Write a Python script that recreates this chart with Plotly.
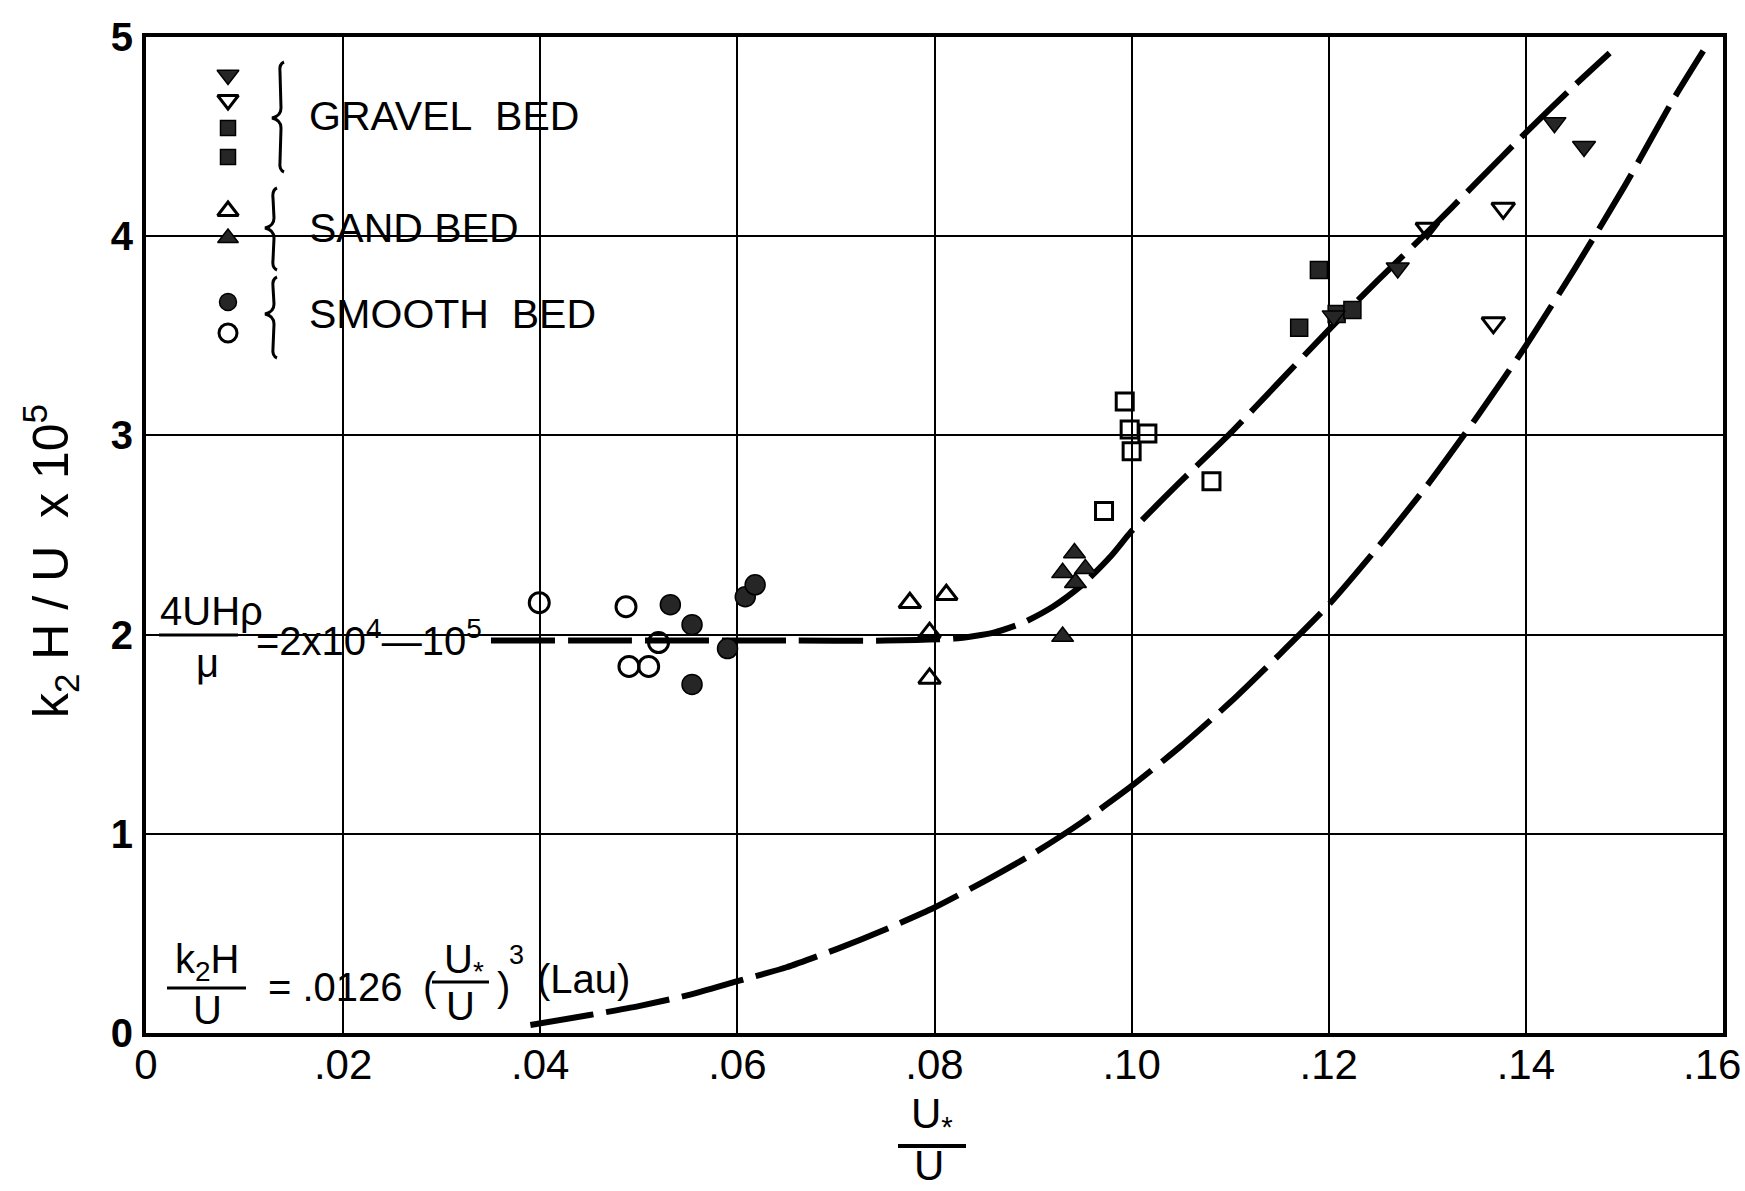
import plotly.graph_objects as go

# ---------------- data ----------------
# SMOOTH BED
smooth_open_x = [0.0399, 0.0487, 0.0520, 0.0490, 0.0510]
smooth_open_y = [2.16, 2.14, 1.96, 1.84, 1.84]
smooth_filled_x = [0.0532, 0.0554, 0.0554, 0.0590, 0.0608, 0.0618]
smooth_filled_y = [2.15, 2.05, 1.75, 1.93, 2.19, 2.25]
# SAND BED
sand_open_x = [0.0775, 0.0812, 0.0795, 0.0795]
sand_open_y = [2.16, 2.20, 2.01, 1.78]
sand_filled_x = [0.0930, 0.0942, 0.0930, 0.0943, 0.0953]
sand_filled_y = [1.99, 2.41, 2.31, 2.26, 2.33]
# GRAVEL BED
gravel_open_sq_x = [0.0993, 0.0998, 0.1016, 0.1000, 0.1081, 0.0972]
gravel_open_sq_y = [3.17, 3.03, 3.01, 2.92, 2.77, 2.62]
gravel_filled_sq_x = [0.1190, 0.1170, 0.1208, 0.1224]
gravel_filled_sq_y = [3.83, 3.54, 3.61, 3.63]
gravel_open_tri_x = [0.1300, 0.1377, 0.1367]
gravel_open_tri_y = [4.04, 4.14, 3.565]
gravel_filled_tri_x = [0.1205, 0.1270, 0.1429, 0.1459]
gravel_filled_tri_y = [3.60, 3.84, 4.57, 4.45]

# fitted dashed curve
fit_x = [0.035, 0.045, 0.055, 0.065, 0.075, 0.082, 0.086, 0.089, 0.092, 0.095,
         0.098, 0.100, 0.105, 0.110, 0.115, 0.120, 0.125, 0.130, 0.135, 0.140,
         0.145, 0.1485]
fit_y = [1.97, 1.97, 1.97, 1.97, 1.97, 1.98, 2.01, 2.06, 2.14, 2.25,
         2.40, 2.52, 2.77, 3.01, 3.27, 3.53, 3.78, 4.02, 4.27, 4.52,
         4.76, 4.92]

# Lau curve
lau_x = [0.039, 0.045, 0.050, 0.055, 0.060, 0.065, 0.070, 0.075, 0.080, 0.085,
         0.090, 0.095, 0.100, 0.105, 0.110, 0.115, 0.120, 0.125, 0.130, 0.135,
         0.140, 0.145, 0.150, 0.155, 0.158]
lau_y = [0.04, 0.09, 0.135, 0.19, 0.26, 0.33, 0.42, 0.52, 0.63, 0.76,
         0.90, 1.06, 1.24, 1.44, 1.66, 1.90, 2.15, 2.44, 2.75, 3.09,
         3.45, 3.84, 4.25, 4.69, 4.93]

x_tickvals = [0, 0.02, 0.04, 0.06, 0.08, 0.10, 0.12, 0.14, 0.16]
x_ticktext = ["0", ".02", ".04", ".06", ".08", ".10", ".12", ".14", ".16"]
y_tickvals = [0, 1, 2, 3, 4, 5]
y_ticktext = ["0", "1", "2", "3", "4", "5"]

X_RANGE = [0, 0.16]
Y_RANGE = [0, 5]

# ---------------- layout helpers ----------------
W, H = 1745, 1191
ML, MR, MT, MB = 146, 22, 37, 158
PW, PH = W - ML - MR, H - MT - MB

SANS = "Liberation Sans, Arial, Helvetica, sans-serif"


def px_to_paper(X, Y):
    return (X - ML) / PW, (H - MB - Y) / PH


def px_to_data(X, Y):
    u, v = px_to_paper(X, Y)
    return X_RANGE[0] + u * (X_RANGE[1] - X_RANGE[0]), Y_RANGE[0] + v * (Y_RANGE[1] - Y_RANGE[0])


fig = go.Figure()

FILL = "#262626"


def add_pts(x, y, symbol, size, filled):
    fig.add_trace(go.Scatter(
        x=x, y=y, mode="markers", showlegend=False, hoverinfo="skip",
        marker=dict(symbol=symbol, size=size,
                    color=(FILL if filled else "black"),
                    line=dict(color="black", width=(1.5 if filled else 3)))))


# curves
DASH = "64px,13px"
fig.add_trace(go.Scatter(x=fit_x, y=fit_y, mode="lines", showlegend=False,
                         line=dict(color="black", width=6, dash=DASH, shape="spline", smoothing=0.6)))
fig.add_trace(go.Scatter(x=lau_x, y=lau_y, mode="lines", showlegend=False,
                         line=dict(color="black", width=6, dash=DASH, shape="spline", smoothing=0.6)))

# data points
add_pts(smooth_open_x, smooth_open_y, "circle-open", 20, False)
add_pts(smooth_filled_x, smooth_filled_y, "circle", 20, True)
add_pts(sand_open_x, sand_open_y, "triangle-up-open", 19, False)
add_pts(sand_filled_x, sand_filled_y, "triangle-up", 19, True)
add_pts(gravel_open_sq_x, gravel_open_sq_y, "square-open", 17, False)
add_pts(gravel_filled_sq_x, gravel_filled_sq_y, "square", 17, True)
add_pts(gravel_open_tri_x, gravel_open_tri_y, "triangle-down-open", 20, False)
add_pts(gravel_filled_tri_x, gravel_filled_tri_y, "triangle-down", 20, True)

# legend keys (page pixel positions)
legend_keys = [
    ("triangle-down", 19, True, 228, 75),
    ("triangle-down-open", 18, False, 228, 100),
    ("square", 15, True, 228, 128),
    ("square", 15, True, 228, 157),
    ("triangle-up-open", 18, False, 228, 211),
    ("triangle-up", 18, True, 228, 238),
    ("circle", 17, True, 228, 302),
    ("circle-open", 18, False, 228, 333),
]
for sym, sz, filled, X, Y in legend_keys:
    dx, dy = px_to_data(X, Y)
    add_pts([dx], [dy], sym, sz, filled)

annotations = []


def ann(text, X, Y, size=40, xanchor="center", yanchor="middle", angle=0):
    u, v = px_to_paper(X, Y)
    annotations.append(dict(text=text, x=u, y=v, xref="paper", yref="paper",
                            xanchor=xanchor, yanchor=yanchor, showarrow=False,
                            textangle=angle,
                            font=dict(family=SANS, size=size, color="black")))


shapes = []


def hline(X0, X1, Y, width=3):
    u0, v0 = px_to_paper(X0, Y)
    u1, v1 = px_to_paper(X1, Y)
    shapes.append(dict(type="line", xref="paper", yref="paper", x0=u0, y0=v0, x1=u1, y1=v1,
                       line=dict(color="black", width=width)))


def brace(Xc, Yt, Yb, Ym, w=9, r=10):
    pts = [("M", [(Xc + 3, Yt)]),
           ("Q", [(Xc - 2, Yt + 2), (Xc - 1, Yt + r)]),
           ("L", [(Xc, Ym - r)]),
           ("Q", [(Xc, Ym - 2), (Xc - w, Ym)]),
           ("Q", [(Xc, Ym + 2), (Xc, Ym + r)]),
           ("L", [(Xc - 1, Yb - r)]),
           ("Q", [(Xc - 2, Yb - 2), (Xc + 3, Yb)])]
    path = ""
    for cmd, ps in pts:
        path += cmd + " " + " ".join("%.5f,%.5f" % px_to_paper(px, py) for px, py in ps) + " "
    shapes.append(dict(type="path", xref="paper", yref="paper", path=path.strip(),
                       line=dict(color="black", width=3)))


# legend labels and braces
ann("GRAVEL\u00a0\u00a0BED", 307, 116, size=41, xanchor="left")
ann("SAND BED", 307, 228, size=41, xanchor="left")
ann("SMOOTH\u00a0\u00a0BED", 307, 314, size=41, xanchor="left")
brace(281, 62, 172, 118)
brace(274, 188, 270, 228)
brace(274, 277, 358, 314)

# Reynolds number annotation
ann("4UHρ", 158, 611, size=40, xanchor="left")
hline(159, 238, 635)
ann("μ", 207, 663, size=40)
ann("=2x10<sup>4</sup>—10<sup>5</sup>", 254, 638, size=40, xanchor="left")

# Lau formula
ann("k<sub>2</sub>H", 207, 962, size=40)
hline(167, 246, 988)
ann("U", 207, 1010, size=40)
ann("= .0126", 266, 987, size=40, xanchor="left")
ann("(", 430, 987, size=40)
ann("U<sub>*</sub>", 464, 962, size=40)
hline(432, 489, 982)
ann("U", 460, 1006, size=40)
ann(")", 503, 987, size=40)
ann("3", 516, 955, size=27)
ann("(Lau)", 535, 979, size=40, xanchor="left")

# ".16" label drawn as text so it stays inside the page
ann(".16", 1743, 1064, size=42, xanchor="right")

# axis titles
ann("k<sub>2</sub> H / U  x 10<sup>5</sup>", 50, 561, size=50, angle=-90)
ann("U<sub>*</sub>", 932, 1116, size=42)
hline(898, 966, 1146, width=4)
ann("U", 929, 1191, size=42, yanchor="bottom")

x_ticktext_axis = x_ticktext[:-1] + [""]

fig.update_layout(
    width=W, height=H, autosize=False,
    margin=dict(l=ML, r=MR, t=MT, b=MB),
    paper_bgcolor="white", plot_bgcolor="white",
    showlegend=False,
    annotations=annotations, shapes=shapes,
    xaxis=dict(range=X_RANGE, tickvals=x_tickvals, ticktext=x_ticktext_axis,
               showgrid=True, gridcolor="black", gridwidth=1.5, zeroline=False,
               showline=True, linecolor="black", linewidth=4, mirror=True,
               ticks="", ticklabelstandoff=-8,
               tickfont=dict(family=SANS, size=42, color="black")),
    yaxis=dict(range=Y_RANGE, tickvals=y_tickvals, ticktext=y_ticktext,
               showgrid=True, gridcolor="black", gridwidth=1.5, zeroline=False,
               showline=True, linecolor="black", linewidth=4, mirror=True,
               ticks="", ticklabelstandoff=1,
               tickfont=dict(family=SANS, size=40, color="black", weight="bold")),
)

fig.write_html("out.html")
